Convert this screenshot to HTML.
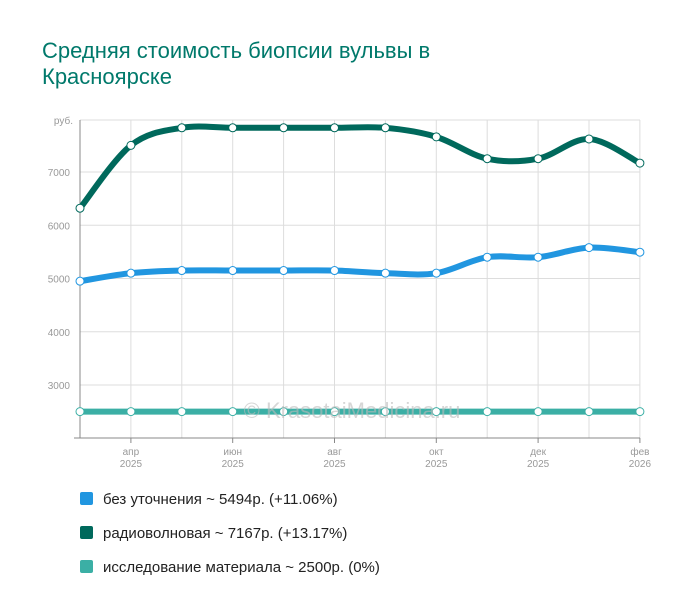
<!DOCTYPE html>
<html><head><meta charset="utf-8"><style>
body{margin:0;background:#fff;font-family:"Liberation Sans",Arial,sans-serif;}
.t{position:absolute;left:42px;top:38px;font-size:22px;color:#00796b;line-height:26px;}
.leg{position:absolute;left:80px;font-size:15px;color:#222;}
.leg span{display:inline-block;width:13px;height:13px;border-radius:2px;margin-right:10px;vertical-align:-1px;}
</style></head><body>
<div class="t">Средняя стоимость биопсии вульвы в<br>Красноярске</div>
<svg id="s" width="700" height="616" style="position:absolute;left:0;top:0;z-index:-1" font-family="Liberation Sans, Arial, sans-serif"></svg>
<div class="leg" style="top:491px"><span style="background:#2196e0"></span>без уточнения ~ 5494р. (+11.06%)</div>
<div class="leg" style="top:525px"><span style="background:#00695c"></span>радиоволновая ~ 7167р. (+13.17%)</div>
<div class="leg" style="top:559px"><span style="background:#3bafa5"></span>исследование материала ~ 2500р. (0%)</div>
<script>
var s=document.getElementById('s'),h='';
function Y(v){return 172-(v-7000)*0.05325;}
var xs=[];for(var i=0;i<12;i++)xs.push(80+i*50.9);
h+='<line x1="80" y1="120" x2="640" y2="120" stroke="#ddd"/>';
[7000,6000,5000,4000,3000].forEach(function(v){h+='<line x1="80" y1="'+Y(v)+'" x2="640" y2="'+Y(v)+'" stroke="#ddd"/><text x="70" y="'+(Y(v)+4)+'" font-size="10" fill="#999" text-anchor="end">'+v+'</text>';});
h+='<text x="73" y="124" font-size="10" fill="#999" text-anchor="end">руб.</text>';
xs.forEach(function(x,i){if(i>0)h+='<line x1="'+x+'" y1="120" x2="'+x+'" y2="438" stroke="#ddd"/>';});
h+='<line x1="80" y1="120" x2="80" y2="438" stroke="#888"/><line x1="74" y1="438" x2="640" y2="438" stroke="#888"/>';
var lab=[[1,'апр'],[3,'июн'],[5,'авг'],[7,'окт'],[9,'дек'],[11,'фев']];
lab.forEach(function(l){var x=xs[l[0]];h+='<line x1="'+x+'" y1="438" x2="'+x+'" y2="443" stroke="#888"/><text x="'+x+'" y="455" font-size="10" fill="#999" text-anchor="middle">'+l[1]+'</text><text x="'+x+'" y="467" font-size="10" fill="#999" text-anchor="middle">'+(l[0]==11?2026:2025)+'</text>';});
function path(vs){var p=vs.map(function(v,i){return [xs[i],Y(v)];});var d='M'+p[0][0]+','+p[0][1];
for(var i=0;i<p.length-1;i++){var p0=p[i-1]||p[i],p1=p[i],p2=p[i+1],p3=p[i+2]||p2;
d+=' C'+(p1[0]+(p2[0]-p0[0])/6)+','+(p1[1]+(p2[1]-p0[1])/6)+' '+(p2[0]-(p3[0]-p1[0])/6)+','+(p2[1]-(p3[1]-p1[1])/6)+' '+p2[0]+','+p2[1];}
return {d:d,p:p};}
var ser=[[[2500,2500,2500,2500,2500,2500,2500,2500,2500,2500,2500,2500],'#3bafa5'],
[[4950,5100,5150,5150,5150,5150,5100,5100,5400,5400,5580,5494],'#2196e0'],
[[6320,7500,7830,7830,7830,7830,7830,7660,7250,7250,7620,7167],'#00695c']];
ser.forEach(function(sr){var r=path(sr[0]);h+='<path d="'+r.d+'" fill="none" stroke="'+sr[1]+'" stroke-width="6"/>';
r.p.forEach(function(q){h+='<circle cx="'+q[0]+'" cy="'+q[1]+'" r="4" fill="#fff" stroke="'+sr[1]+'" stroke-width="1"/>';});});
h+='<text x="352" y="418" font-size="22" fill="#bbb" text-anchor="middle" opacity="0.6">© KrasotaiMedicina.ru</text>';
s.innerHTML=h;
</script>
</body></html>
